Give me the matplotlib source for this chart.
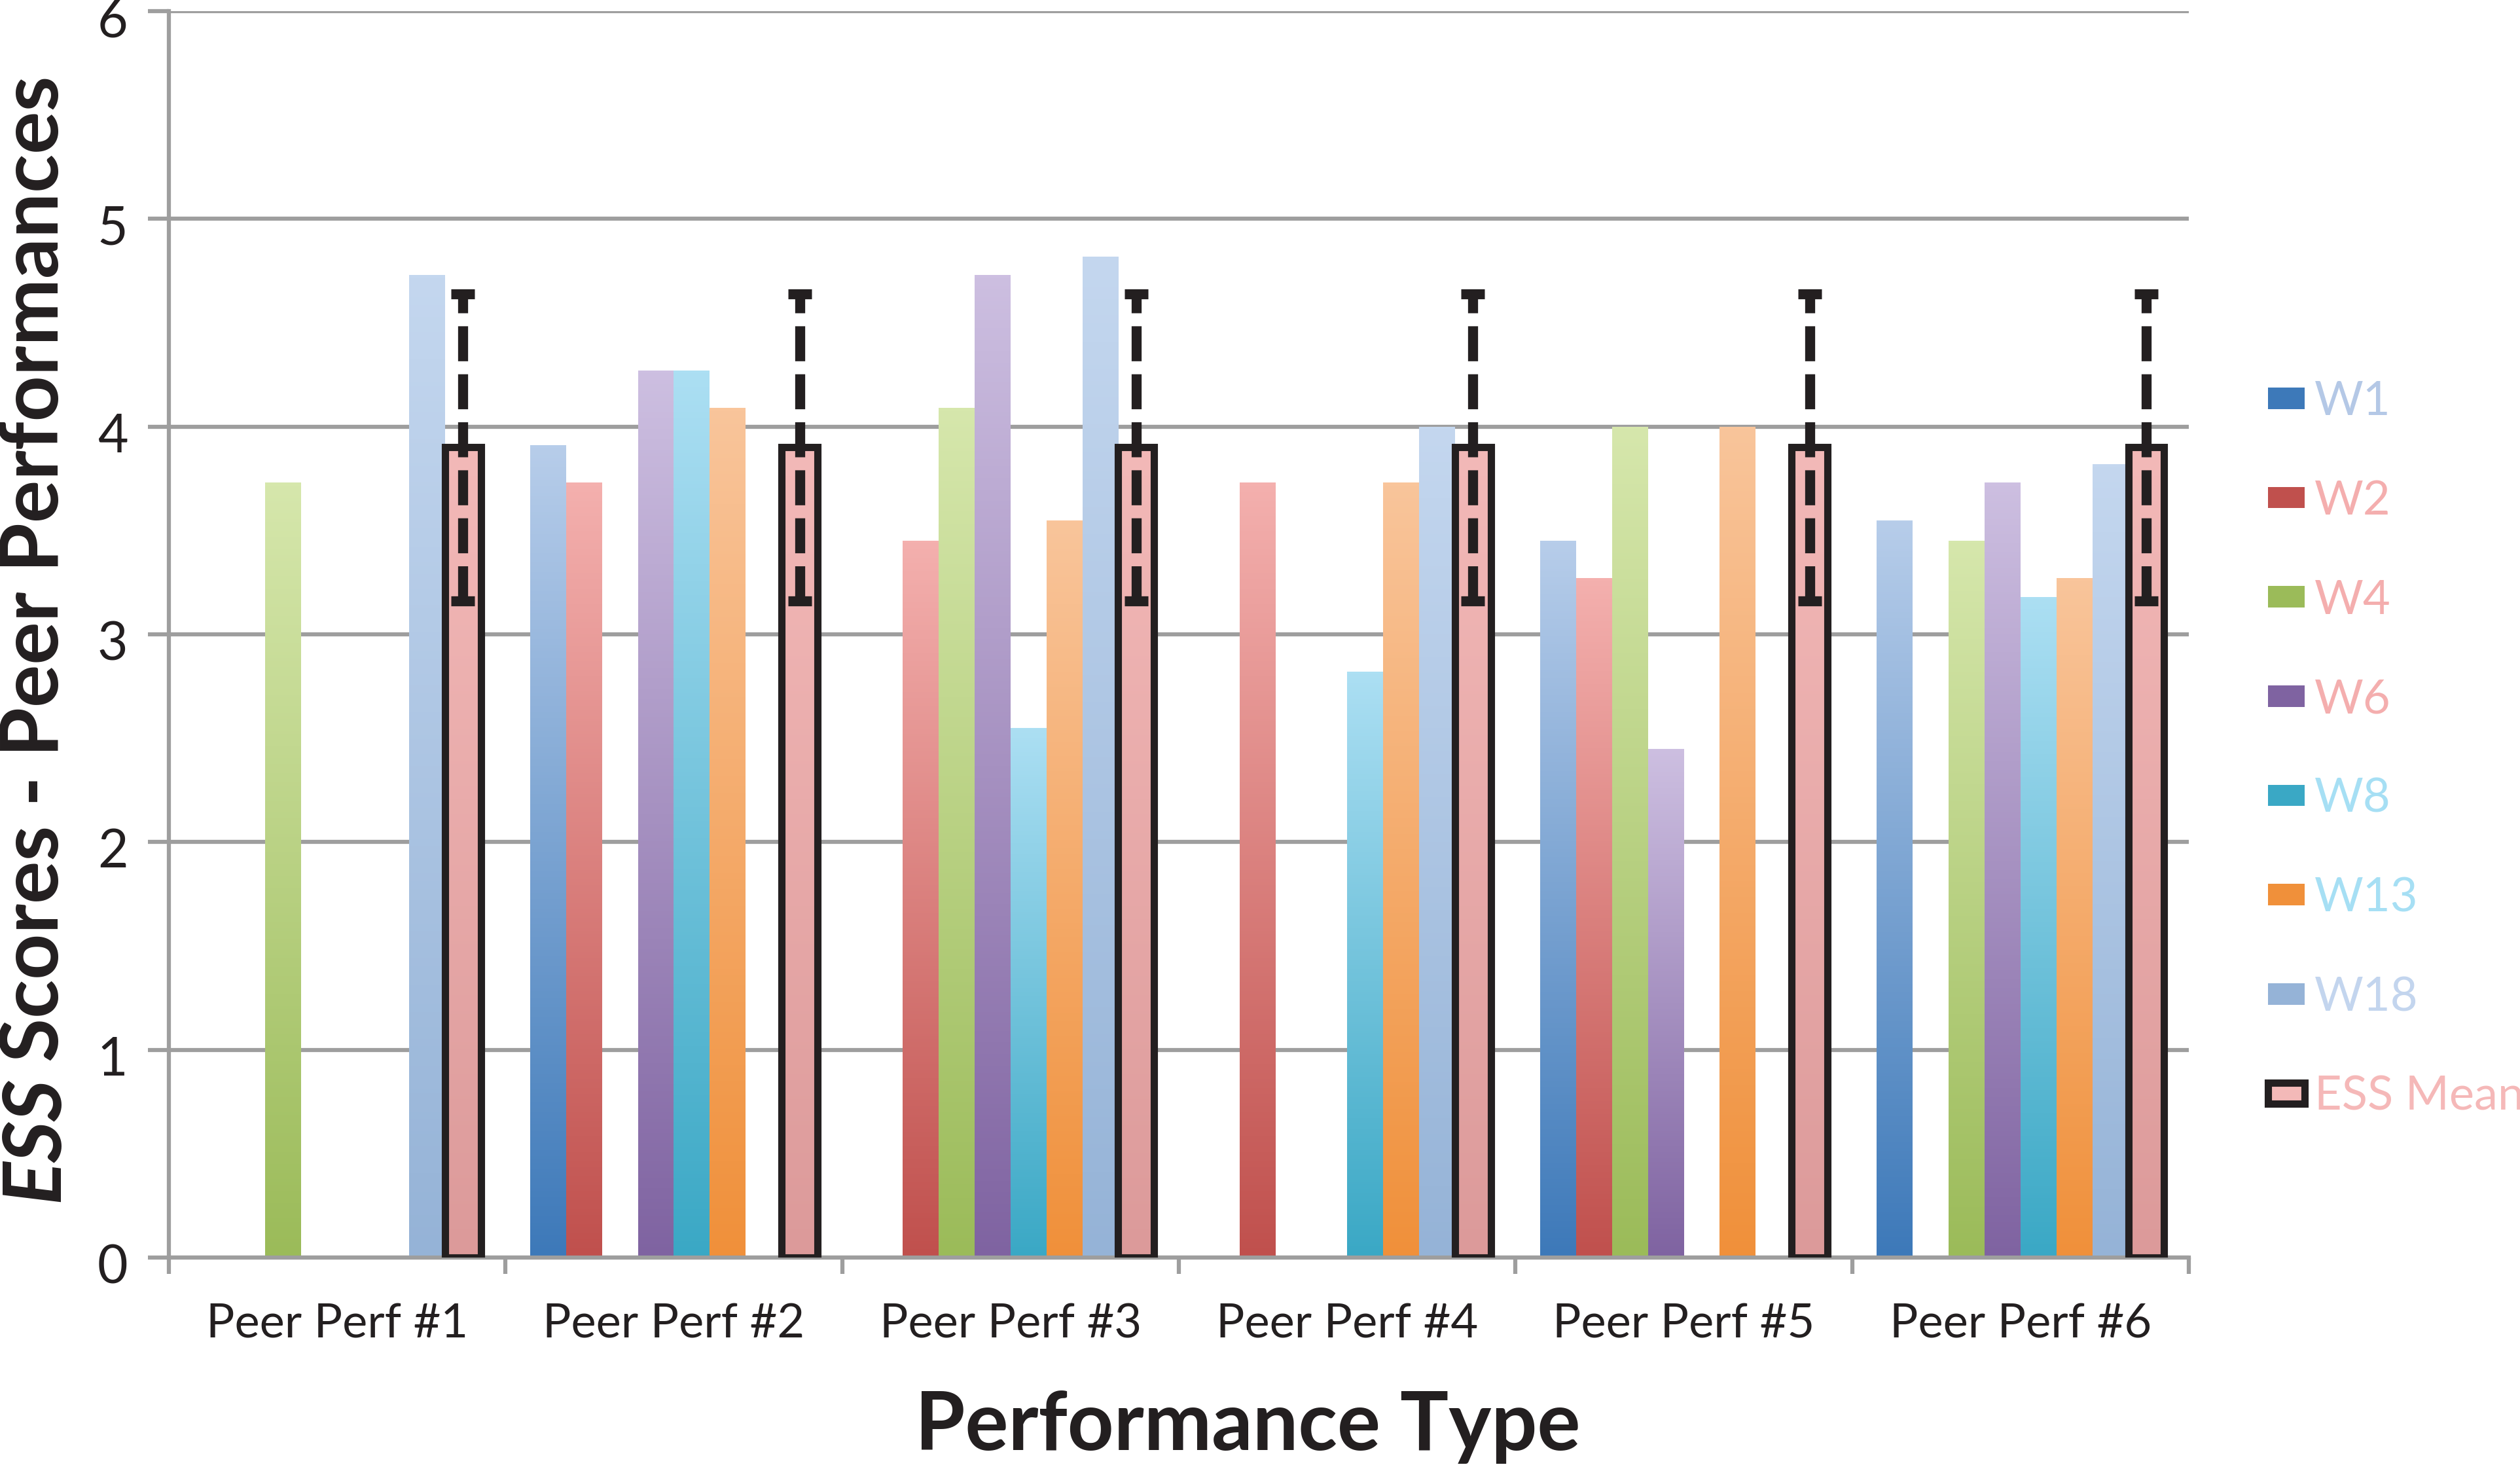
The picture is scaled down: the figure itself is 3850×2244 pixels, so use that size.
import numpy as np
import matplotlib.pyplot as plt
from matplotlib.colors import LinearSegmentedColormap
from matplotlib.patches import Patch
from matplotlib.transforms import ScaledTranslation

plt.rcParams['font.family'] = ['Lato', 'DejaVu Sans']

nan = np.nan
groups = ['Peer Perf #1', 'Peer Perf #2', 'Peer Perf #3', 'Peer Perf #4', 'Peer Perf #5', 'Peer Perf #6']
series = ['W1', 'W2', 'W4', 'W6', 'W8', 'W13', 'W18']
w1 = [nan, 3.91, nan, nan, 3.45, 3.55]
w2 = [nan, 3.73, 3.45, 3.73, 3.27, nan]
w4 = [3.73, nan, 4.09, nan, 4.00, 3.45]
w6 = [nan, 4.27, 4.73, nan, 2.45, 3.73]
w8 = [nan, 4.27, 2.55, 2.82, nan, 3.18]
w13 = [nan, 4.09, 3.55, 3.73, 4.00, 3.27]
w18 = [4.73, nan, 4.82, 4.00, nan, 3.82]
ess_mean = [3.9, 3.9, 3.9, 3.9, 3.9, 3.9]
ess_err = [0.74, 0.74, 0.74, 0.74, 0.74, 0.74]
values = [w1, w2, w4, w6, w8, w13, w18]

# bottom / top colours of each gradient
grads = [('#3d79b9', '#b7cdea'), ('#c0504d', '#f4b0ae'), ('#9bbb59', '#d6e7ac'),
         ('#7f63a1', '#cdbfe1'), ('#3aa8c5', '#acdff3'), ('#f0903a', '#f9c59b'),
         ('#95b3d7', '#c4d7ef')]
ess_grad = ('#dc9a9a', '#f3b9b8')
label_cols = ['#b4c8e6', '#f4aeae', '#f4aeae', '#f4aeae', '#a6dff4', '#a6dff4', '#c3d5ee', '#f5b8b8']
grid_col = '#9e9e9e'

fig = plt.figure(figsize=(38.5, 22.44), dpi=100)
ax = fig.add_axes([0.067, 0.1439, 0.8016, 0.8485])

x = np.arange(len(groups))
w = 1 / (8 + 1.375)
ramp = np.linspace(0, 1, 256).reshape(-1, 1)


def grad_bar(xpos, vals, cols, **kw):
    cm = LinearSegmentedColormap.from_list('g', [cols[0], cols[1]])
    bars = ax.bar(xpos, vals, w, color=cols[0], zorder=2, **kw)
    for b, v in zip(bars, vals):
        if np.isnan(v):
            continue
        im = ax.imshow(ramp, extent=[b.get_x(), b.get_x() + b.get_width(), 0, v],
                       cmap=cm, aspect='auto', origin='lower', zorder=2.1)
        im.set_clip_path(b)
    return bars


for i, (vals, cols) in enumerate(zip(values, grads)):
    grad_bar(x + (i - 3.5) * w, vals, cols)

xe = x + 3.5 * w
grad_bar(xe, ess_mean, ess_grad)
ax.bar(xe, ess_mean, w, facecolor='none', edgecolor='#231f20', linewidth=8, zorder=3)
eb = ax.errorbar(xe, ess_mean, yerr=ess_err, fmt='none', ecolor='#231f20',
                 elinewidth=11, capsize=13, capthick=11, zorder=4)
eb[2][0].set_linestyle((0, (3.5, 1.3)))

ax.set_xlim(-0.5, 5.5)
ax.set_ylim(0, 6)
ax.set_yticks(range(7))
ax.yaxis.grid(True, color=grid_col, linewidth=4.5, zorder=0)
ax.set_axisbelow(True)
for s in ['top', 'right']:
    ax.spines[s].set_visible(False)
for s in ['left', 'bottom']:
    ax.spines[s].set_color(grid_col)
    ax.spines[s].set_linewidth(4.5)

ax.set_xticks(x)
ax.set_xticklabels(groups)
ax.set_xticks(np.arange(-0.5, 6, 1), minor=True)
ax.tick_params(axis='x', which='major', length=0, labelsize=52, pad=50, labelcolor='#231f20')
ax.tick_params(axis='x', which='minor', length=18, width=4.5, color=grid_col)
ax.tick_params(axis='y', length=23, width=4.5, color=grid_col, labelsize=58, pad=22, labelcolor='#231f20')
shift = ScaledTranslation(0, -9 / 100, fig.dpi_scale_trans)
for lab in ax.get_yticklabels():
    lab.set_transform(lab.get_transform() + shift)

fig.text(0.495, 0.029, 'Performance Type', fontsize=89, fontweight='bold', ha='center', va='center', color='#231f20')

# y label: italic "ESS" followed by upright text
t1 = fig.text(0.014, 0.182, 'ESS', fontsize=88, fontweight='bold', fontstyle='italic', rotation=90,
              rotation_mode='anchor', ha='left', va='center', color='#231f20')
fig.canvas.draw()
bb = t1.get_window_extent()
fig.text(0.014, 0.182 + bb.height / fig.bbox.height + 0.01, 'Scores - Peer Performances', fontsize=88,
         fontweight='bold', rotation=90, rotation_mode='anchor', ha='left', va='center', color='#231f20')

handles = [Patch(facecolor=c[0], edgecolor='none') for c in grads]
handles.append(Patch(facecolor=ess_grad[1], edgecolor='#231f20', linewidth=8))
leg = fig.legend(handles, series + ['ESS Mean'], loc='upper left', bbox_to_anchor=(0.9, 0.741),
                 frameon=False, fontsize=52, labelcolor=label_cols, handlelength=0.78,
                 handleheight=0.32, handletextpad=0.2, labelspacing=1.2, borderpad=0, borderaxespad=0)

fig.savefig('out.png', dpi=100)
